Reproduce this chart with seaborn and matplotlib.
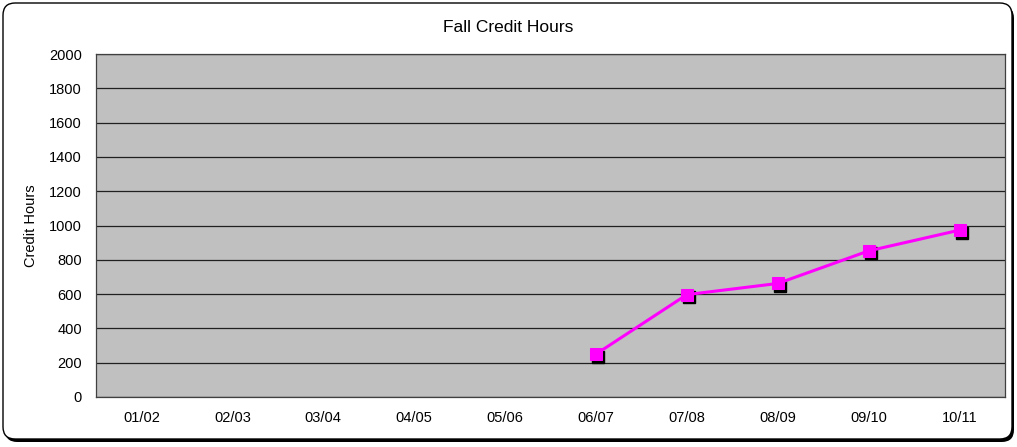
import matplotlib
matplotlib.use("Agg")
import matplotlib.pyplot as plt
import matplotlib.transforms as mtransforms
from matplotlib.patches import FancyBboxPatch
import seaborn as sns
import pandas as pd

years = ["01/02", "02/03", "03/04", "04/05", "05/06", "06/07", "07/08", "08/09", "09/10", "10/11"]
credit_hours = [None, None, None, None, None, 250, 597, 662, 852, 973]
y_ticks = [0, 200, 400, 600, 800, 1000, 1200, 1400, 1600, 1800, 2000]

sns.set_style("white")
plt.rcParams["font.family"] = ["Liberation Sans", "DejaVu Sans"]
plt.rcParams["text.color"] = "black"
plt.rcParams["axes.labelcolor"] = "black"

df = pd.DataFrame({"pos": range(len(years)), "year": years, "hours": credit_hours}).dropna()

fig = plt.figure(figsize=(10.17, 4.47), dpi=100)

# rounded frame with a drop shadow on the lower right
W, H = 1017, 447
box = dict(boxstyle="round,pad=0,rounding_size=0.012",
           transform=fig.transFigure, mutation_aspect=W / H)
shadow = FancyBboxPatch((5 / W, 5 / H), 1009 / W, 436 / H,
                        facecolor="black", edgecolor="black", lw=0, zorder=0, **box)
frame = FancyBboxPatch((3 / W, 8 / H), 1009 / W, 436 / H,
                       facecolor="white", edgecolor="black", lw=1.0, zorder=1, **box)
fig.patches.extend([shadow, frame])

ax = fig.add_axes([96 / W, 1 - 397 / H, 909 / W, 343 / H])
ax.set_facecolor("#c0c0c0")
ax.set_zorder(2)

# shadow squares under each marker
offset = mtransforms.ScaledTranslation(2.5 / 100, -2.5 / 100, fig.dpi_scale_trans)
ax.plot(df["pos"], df["hours"], linestyle="none", marker="s", markersize=9,
        color="black", transform=ax.transData + offset, zorder=3)

sns.lineplot(data=df, x="pos", y="hours", ax=ax, color="#ff00ff", linewidth=2.2,
             marker="s", markersize=9, markeredgecolor="#ff00ff", zorder=4)

ax.set_xlim(-0.5, len(years) - 0.5)
ax.set_ylim(0, 2000)
ax.set_xticks(range(len(years)))
ax.set_xticklabels(years)
ax.set_yticks(y_ticks)
ax.yaxis.grid(True, color="#202020", linewidth=0.9)
ax.xaxis.grid(False)
ax.set_axisbelow(True)
ax.tick_params(axis="both", length=0, labelsize=10.5, colors="black")
ax.tick_params(axis="x", pad=10)
ax.tick_params(axis="y", pad=10)
for s in ax.spines.values():
    s.set_color("#404040")
    s.set_linewidth(0.9)
ax.set_xlabel("")
ax.set_ylabel("Credit Hours", fontsize=10.5, labelpad=8, color="black")

# chart title centred on the whole frame
fig.text(0.5, 1 - 28 / H, "Fall Credit Hours", fontsize=12.5, color="black",
         ha="center", va="center", zorder=5)

fig.savefig("out.png", dpi=100)
